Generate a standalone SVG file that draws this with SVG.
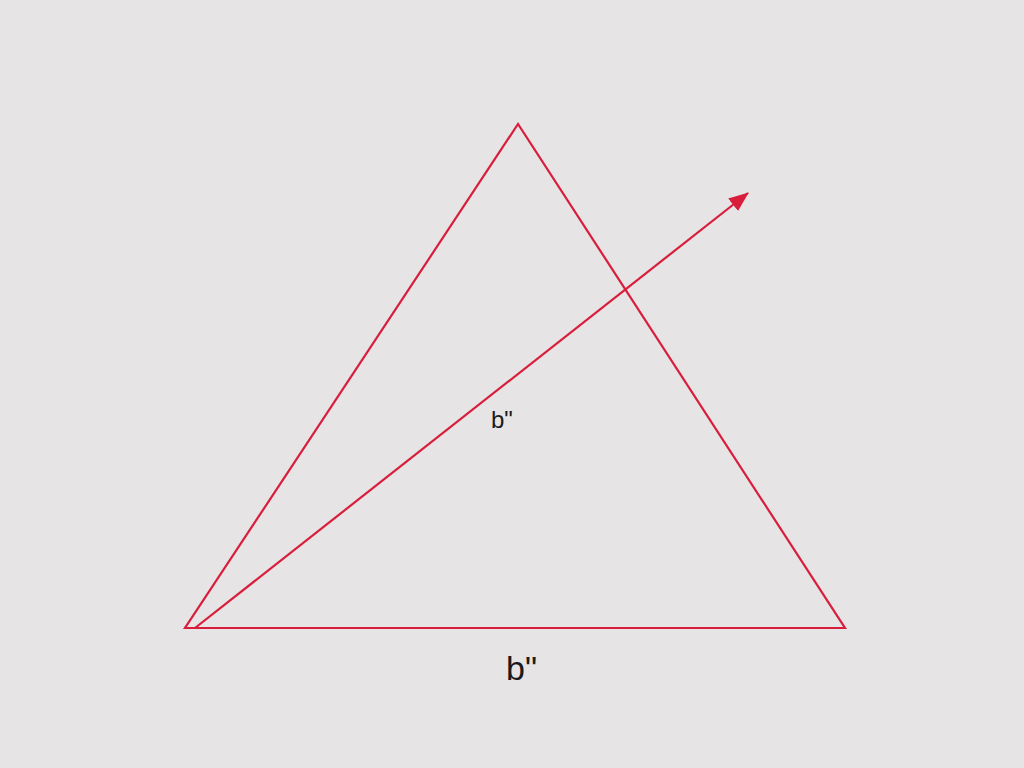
<svg xmlns="http://www.w3.org/2000/svg" width="1024" height="768" viewBox="0 0 1024 768">
<defs>
<style>
.edge{fill:none;stroke:#d81e3c;stroke-width:2.2;stroke-linejoin:miter}
.lbl{font-family:"Liberation Sans",Arial,sans-serif;fill:#1a1a1a}
</style>
<marker id="ah" viewBox="0 0 10 10" refX="9" refY="5" markerWidth="9" markerHeight="9" markerUnits="userSpaceOnUse" orient="auto">
<path d="M0,0 L10,5 L0,10 z" fill="#d81e3c"/>
</marker>
<marker id="ah2" viewBox="0 0 20 16" refX="19" refY="8" markerWidth="20" markerHeight="16" markerUnits="userSpaceOnUse" orient="auto">
<path d="M0,0 L20,8 L0,16 z" fill="#d81e3c"/>
</marker>
</defs>
<rect width="1024" height="768" fill="#e6e4e4"/>
<g id="triangle">
<polygon class="edge" points="518,124 185,628 845,628"/>
</g>
<g id="connectors">
<line class="edge" x1="195" y1="628" x2="748" y2="193" marker-end="url(#ah2)"/>
</g>
<g id="label-inner">
<text class="lbl" x="491" y="428" font-size="24">b"</text>
</g>
<g id="label-base">
<text class="lbl" x="506" y="680" font-size="34">b"</text>
</g>
</svg>
